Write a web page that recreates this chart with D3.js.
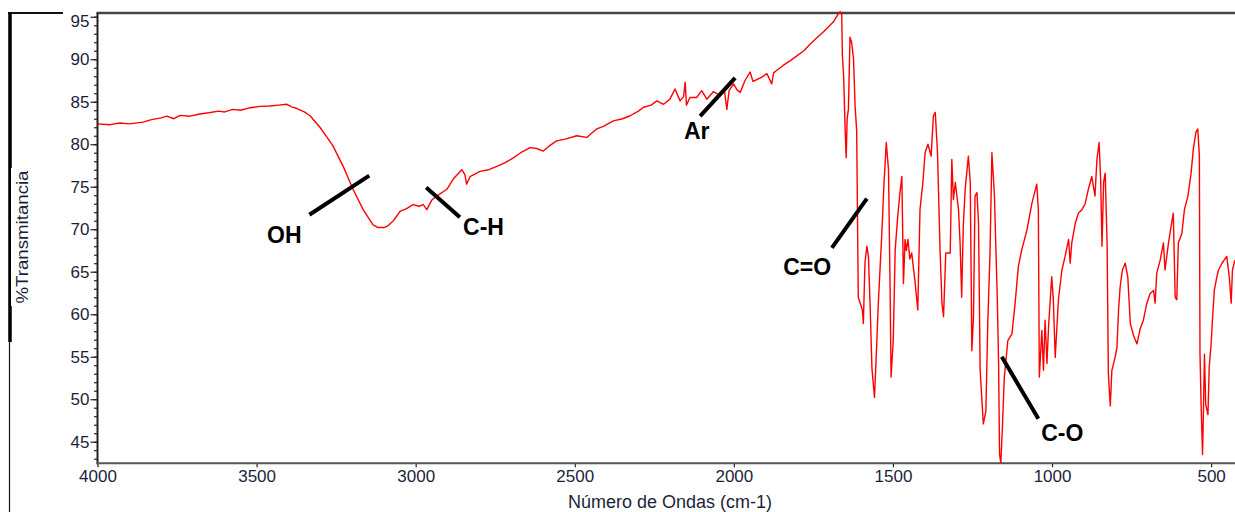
<!DOCTYPE html>
<head>
    <meta charset="utf-8">
    <script type="text/javascript" src="https://d3js.org/d3.v7.min.js"></script>
    <style>
        body { margin: 0; background: #fff; }
        .chart text { font-family: Arial, "Liberation Sans", sans-serif; }
        .tick text { fill: #1c1f3a; font-size: 17px; }
        .tick line { stroke: #222; stroke-width: 1.2; }
        .note { font-weight: bold; font-size: 23px; fill: #000; }
    </style>
</head>
<body>
<svg class="chart" width="1235" height="512"></svg>

<script>
    // wavenumber (cm-1) and %T
    var waveNumbers = [
        4000, 3960, 3930, 3900, 3857, 3830, 3800, 3782, 3760, 3740, 3710, 3678, 3650, 3620, 3600, 3575,
        3550, 3520, 3489, 3460, 3430, 3405, 3390, 3373, 3350, 3332, 3301, 3280, 3260, 3228, 3197, 3165,
        3134, 3118, 3100, 3087, 3070, 3049, 3030, 3008, 2990, 2976, 2965, 2950, 2934, 2902, 2882, 2855,
        2845, 2840, 2829, 2798, 2770, 2745, 2720, 2693, 2670, 2640, 2620, 2599, 2580, 2557, 2530, 2494,
        2462, 2450, 2431, 2410, 2379, 2350, 2326, 2300, 2284, 2260, 2242, 2221, 2201, 2185, 2169, 2158,
        2153, 2149, 2138, 2117, 2101, 2085, 2064, 2043, 2030, 2022, 2015, 2001, 1990, 1980, 1965, 1949,
        1940, 1933, 1912, 1896, 1881, 1875, 1865, 1844, 1820, 1802, 1780, 1760, 1740, 1719, 1700, 1687,
        1671, 1666, 1661, 1659, 1655, 1650, 1647, 1644, 1640, 1635, 1630, 1624, 1619, 1614, 1609, 1603,
        1596, 1593, 1588, 1582, 1577, 1572, 1566, 1558, 1551, 1546, 1535, 1528, 1521, 1514, 1509, 1506,
        1499, 1493, 1485, 1478, 1472, 1467, 1462, 1458, 1453, 1447, 1441, 1430, 1422, 1415, 1406, 1399,
        1390, 1380, 1373, 1367, 1360, 1352, 1346, 1341, 1334, 1320, 1315, 1310, 1304, 1294, 1289, 1284,
        1279, 1273, 1263, 1257, 1252, 1247, 1242, 1236, 1231, 1226, 1216, 1208, 1202, 1195, 1189, 1181,
        1177, 1172, 1168, 1165, 1161, 1156, 1150, 1139, 1126, 1116, 1106, 1095, 1079, 1063, 1048, 1043,
        1040, 1032, 1027, 1022, 1016, 1011, 1001, 996, 990, 980, 969, 959, 948, 943, 938, 927,
        917, 906, 896, 886, 875, 865, 859, 852, 847, 843, 838, 833, 827, 823, 817, 812,
        802, 796, 791, 786, 779, 770, 762, 754, 744, 733, 723, 713, 702, 692, 681, 676,
        671, 660, 650, 645, 634, 626, 619, 613, 608, 603, 592, 584, 573, 563, 556, 548,
        542, 537, 535, 531, 527, 524, 521, 517, 510, 506, 500, 496, 490, 482, 477, 466,
        451, 443, 437, 433, 425
    ];
    var transmittance = [
        82.4, 82.3, 82.5, 82.4, 82.6, 82.9, 83.1, 83.3, 83.0, 83.4, 83.3, 83.55, 83.7, 83.9, 83.8, 84.1,
        84.0, 84.3, 84.45, 84.5, 84.6, 84.7, 84.4, 84.2, 83.8, 83.35, 82.0, 80.9, 79.8, 77.4, 74.7, 72.3,
        70.5, 70.2, 70.2, 70.4, 71.0, 72.1, 72.4, 72.9, 72.7, 72.9, 72.3, 73.4, 73.9, 74.7, 75.9, 77.0,
        76.4, 75.3, 76.2, 76.8, 77.0, 77.4, 77.8, 78.4, 79.0, 79.6, 79.5, 79.2, 79.8, 80.4, 80.6, 81.0,
        80.8, 81.2, 81.8, 82.1, 82.75, 83.0, 83.35, 83.9, 84.35, 84.6, 85.1, 84.7, 85.3, 86.5, 85.1, 85.6,
        87.3, 84.6, 85.5, 85.5, 86.3, 85.3, 86.2, 85.7, 86.4, 84.1, 86.3, 87.1, 86.4, 86.1, 87.5, 88.5,
        87.4, 87.5, 87.9, 88.3, 87.1, 88.4, 88.7, 89.3, 89.9, 90.4, 91.0, 91.8, 92.5, 93.2, 93.9, 94.4,
        95.4, 95.6, 95.2, 90.5, 88.0, 81.4, 78.4, 83.0, 84.1, 92.6, 92.0, 90.1, 84.5, 81.6, 62.0, 61.3,
        60.5, 58.9, 66.0, 68.0, 66.8, 61.3, 53.6, 50.2, 56.5, 61.3, 69.5, 75.5, 80.2, 77.0, 63.2, 52.6,
        56.9, 67.6, 71.5, 74.3, 76.2, 63.6, 68.8, 67.5, 68.8, 66.5, 67.2, 63.6, 60.5, 72.3, 75.5, 79.0,
        80.0, 78.6, 83.3, 83.75, 79.0, 67.6, 61.3, 59.7, 67.2, 67.2, 78.2, 73.5, 75.5, 72.3, 68.4, 62.0,
        70.3, 74.7, 78.6, 75.5, 55.7, 59.7, 73.9, 74.3, 70.7, 53.4, 47.1, 48.6, 58.9, 67.2, 79.0, 73.9,
        68.4, 61.7, 54.2, 43.5, 42.5, 46.7, 52.6, 56.9, 57.7, 61.3, 65.6, 67.6, 69.9, 73.1, 75.3, 72.3,
        52.6, 58.1, 53.4, 59.3, 54.2, 58.5, 64.4, 61.7, 54.9, 61.7, 65.2, 66.8, 68.8, 66.0, 68.4, 70.7,
        71.9, 72.3, 73.0, 74.7, 76.2, 73.9, 78.2, 80.2, 75.5, 68.0, 75.5, 76.6, 68.4, 53.0, 49.2, 53.4,
        54.9, 56.1, 60.5, 63.2, 65.2, 66.0, 64.4, 58.9, 57.5, 56.5, 58.3, 59.3, 61.3, 62.4, 62.8, 61.3,
        64.8, 66.4, 68.4, 65.2, 68.4, 70.3, 71.9, 62.0, 61.7, 68.4, 69.5, 72.3, 73.9, 76.6, 79.4, 81.4,
        81.8, 78.6, 55.3, 48.6, 43.5, 49.0, 55.3, 49.4, 48.2, 53.8, 56.5, 59.3, 62.8, 64.4, 65.2, 66.0,
        66.8, 64.4, 61.3, 65.2, 66.4
    ];

    var xTicks = [4000, 3500, 3000, 2500, 2000, 1500, 1000, 500];
    var yTicks = [45, 50, 55, 60, 65, 70, 75, 80, 85, 90, 95];

    // band labels: text, label anchor, pointer line (all in data units)
    var noteText = ["OH", "C-H", "Ar", "C=O", "C-O"];
    var noteAt = [[3467, 68.4], [2851, 69.3], [2157, 80.6], [1845, 64.6], [1034, 45.1]];
    var noteLine = [
        [[3334, 71.7], [3146, 76.3]],
        [[2967, 74.9], [2861, 71.4]],
        [[2106, 83.3], [1996, 87.8]],
        [[1692, 67.8], [1582, 73.6]],
        [[1158, 55.0], [1043, 47.7]]
    ];

    var plotL = 97.5, plotT = 13, plotR = 1235, plotB = 463.3;

    var svg = d3.select(".chart");

    var x = d3.scaleLinear().domain([4000, 425]).range([plotL, plotR]);
    var y = d3.scaleLinear().domain([42.46, 95.44]).range([plotB, plotT]);

    // scan border bits at the far left
    svg.append("line").attr("x1", 8).attr("x2", 63).attr("y1", 13).attr("y2", 13)
        .attr("stroke", "#111").attr("stroke-width", 2);
    svg.append("line").attr("x1", 9.5).attr("x2", 9.5).attr("y1", 13).attr("y2", 512)
        .attr("stroke", "#111").attr("stroke-width", 1.2);
    svg.append("line").attr("x1", 10).attr("x2", 10).attr("y1", 13).attr("y2", 342)
        .attr("stroke", "#000").attr("stroke-width", 3.5);

    // minor y ticks
    svg.append("g")
        .attr("transform", "translate(" + plotL + ",0)")
        .call(d3.axisLeft(y).tickValues(d3.range(43, 96)).tickSize(3.5).tickFormat(""))
        .call(function(g) { g.select(".domain").remove(); });

    // major y ticks
    svg.append("g")
        .attr("transform", "translate(" + plotL + ",0)")
        .call(d3.axisLeft(y).tickValues(yTicks).tickSize(7).tickPadding(1))
        .call(function(g) {
            g.select(".domain").remove();
            // top label sits a little lower, clear of the frame
            g.selectAll(".tick text").filter(function(d) { return d === 95; }).attr("dy", "0.55em");
        });

    svg.append("g")
        .attr("transform", "translate(0," + plotB + ")")
        .call(d3.axisBottom(x).tickValues(xTicks).tickSize(4).tickPadding(3).tickFormat(d3.format("d")))
        .call(function(g) { g.select(".domain").remove(); });

    // frame
    svg.append("line").attr("x1", plotL - 1).attr("x2", plotR).attr("y1", plotT).attr("y2", plotT)
        .attr("stroke", "#444").attr("stroke-width", 2.5);
    svg.append("line").attr("x1", plotL).attr("x2", plotL).attr("y1", plotT).attr("y2", plotB + 1)
        .attr("stroke", "#222").attr("stroke-width", 2);
    svg.append("line").attr("x1", plotL - 1).attr("x2", plotR).attr("y1", plotB).attr("y2", plotB)
        .attr("stroke", "#555").attr("stroke-width", 2);

    // spectrum
    var points = waveNumbers.map(function(w, i) { return [w, transmittance[i]]; });
    var line = d3.line()
        .x(function(d) { return x(d[0]); })
        .y(function(d) { return y(d[1]); });

    svg.append("path")
        .datum(points)
        .attr("fill", "none")
        .attr("stroke", "#ff0000")
        .attr("stroke-width", 1.4)
        .attr("stroke-linejoin", "round")
        .attr("d", line);

    // band pointers
    svg.selectAll(".pointer")
        .data(noteLine)
        .enter().append("line")
        .attr("class", "pointer")
        .attr("x1", function(d) { return x(d[0][0]); })
        .attr("y1", function(d) { return y(d[0][1]); })
        .attr("x2", function(d) { return x(d[1][0]); })
        .attr("y2", function(d) { return y(d[1][1]); })
        .attr("stroke", "#000")
        .attr("stroke-width", 4);

    svg.selectAll(".note")
        .data(noteText)
        .enter().append("text")
        .attr("class", "note")
        .attr("x", function(d, i) { return x(noteAt[i][0]); })
        .attr("y", function(d, i) { return y(noteAt[i][1]); })
        .text(function(d) { return d; });

    // axis titles
    svg.append("text")
        .attr("x", 670)
        .attr("y", 508)
        .attr("text-anchor", "middle")
        .style("font-size", "18px")
        .style("fill", "#1c1f3a")
        .text("Número de Ondas (cm-1)");

    svg.append("rect").attr("x", 11).attr("y", 168).attr("width", 22).attr("height", 138).attr("fill", "#fff");
    svg.append("text")
        .attr("transform", "translate(28,237) rotate(-90)")
        .attr("text-anchor", "middle")
        .attr("textLength", 133)
        .attr("lengthAdjust", "spacingAndGlyphs")
        .style("font-size", "17px")
        .style("fill", "#1c1f3a")
        .text("%Transmitancia");
</script>
</body>
